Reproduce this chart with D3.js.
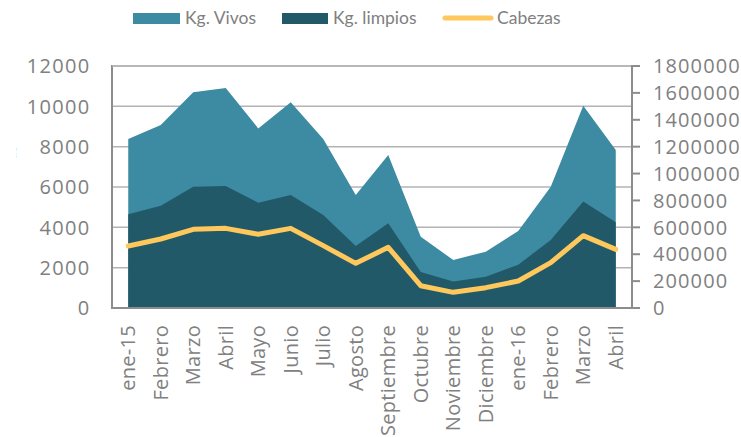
<!DOCTYPE html>
<html>
<head>
<meta charset="utf-8">
<script src="https://cdn.jsdelivr.net/npm/d3@7"></script>
<style>
  body { margin: 0; background: #fff; }
  svg { display: block; }
</style>
</head>
<body>
<svg id="chart" width="741" height="437"></svg>
<script>
// data
const months = ["ene-15", "Febrero", "Marzo", "Abril", "Mayo", "Junio", "Julio", "Agosto",
  "Septiembre", "Octubre", "Noviembre", "Diciembre", "ene-16", "Febrero", "Marzo", "Abril"];
const kgVivos = [1257000, 1361000, 1604000, 1636000, 1336000, 1530000, 1257000, 840000,
  1138000, 530000, 357000, 419000, 573000, 902000, 1505000, 1175000];
const kgLimpios = [697000, 761000, 902000, 907000, 783000, 840000, 692000, 461000,
  630000, 268000, 198000, 233000, 322000, 506000, 793000, 637000];
const cabezas = [3074, 3421, 3901, 3950, 3653, 3950, 3091, 2215,
  3008, 1107, 777, 1008, 1339, 2248, 3587, 2909];

const leftTicks = d3.range(0, 12001, 2000);
const rightTicks = d3.range(0, 1800001, 200000);

const COL_VIVOS = "#3d8ba3";
const COL_LIMPIOS = "#225969";
const COL_CAB = "#ffc85c";
const TXT = "#808080";

const PLOT = { left: 112, right: 632, top: 66, bottom: 308 };

const svg = d3.select("#chart");

const x = d3.scalePoint()
  .domain(d3.range(months.length))
  .range([PLOT.left, PLOT.right])
  .padding(0.5);

const yL = d3.scaleLinear().domain([0, 12000]).range([PLOT.bottom, PLOT.top]);
const yR = d3.scaleLinear().domain([0, 1800000]).range([PLOT.bottom, PLOT.top]);

// gridlines
svg.append("g")
  .selectAll("line")
  .data(leftTicks.filter(d => d > 0))
  .join("line")
  .attr("x1", PLOT.left).attr("x2", PLOT.right)
  .attr("y1", d => yL(d)).attr("y2", d => yL(d))
  .attr("stroke", "#b3b3b3")
  .attr("stroke-width", 1.5);

// areas (right axis)
const areaOf = vals => d3.area()
  .x((d, i) => x(i))
  .y0(yR(0))
  .y1(d => yR(d))(vals);

svg.append("path").attr("d", areaOf(kgVivos)).attr("fill", COL_VIVOS);
svg.append("path").attr("d", areaOf(kgLimpios)).attr("fill", COL_LIMPIOS);

// cabezas line (left axis)
svg.append("path")
  .attr("d", d3.line().x((d, i) => x(i)).y(d => yL(d))(cabezas))
  .attr("fill", "none")
  .attr("stroke", COL_CAB)
  .attr("stroke-width", 5)
  .attr("stroke-linejoin", "round")
  .attr("stroke-linecap", "round");

// axis lines
const axisG = svg.append("g").attr("stroke", "#8c8c8c").attr("stroke-width", 2);
axisG.append("line").attr("x1", PLOT.left).attr("x2", PLOT.left).attr("y1", PLOT.top - 1).attr("y2", PLOT.bottom + 1);
axisG.append("line").attr("x1", PLOT.left).attr("x2", PLOT.right).attr("y1", PLOT.bottom).attr("y2", PLOT.bottom);
axisG.append("line").attr("x1", PLOT.left).attr("x2", PLOT.right).attr("y1", PLOT.top).attr("y2", PLOT.top)
  .attr("stroke", "#b3b3b3").attr("stroke-width", 1.5);
axisG.append("line").attr("x1", PLOT.right).attr("x2", PLOT.right).attr("y1", PLOT.top - 1).attr("y2", PLOT.bottom + 1);
axisG.selectAll("line.tk")
  .data(rightTicks)
  .join("line")
  .attr("class", "tk")
  .attr("x1", PLOT.right).attr("x2", PLOT.right + 8)
  .attr("y1", d => yR(d)).attr("y2", d => yR(d));

// tick labels
const tickFont = "'Open Sans', sans-serif";
svg.append("g")
  .selectAll("text")
  .data(leftTicks)
  .join("text")
  .attr("x", 90.5)
  .attr("y", d => yL(d))
  .attr("dy", "0.36em")
  .attr("text-anchor", "end")
  .attr("font-family", tickFont)
  .attr("font-size", 20)
  .attr("letter-spacing", 1.3)
  .attr("fill", TXT)
  .text(d => d);

svg.append("g")
  .selectAll("text")
  .data(rightTicks)
  .join("text")
  .attr("x", 653)
  .attr("y", d => yR(d))
  .attr("dy", "0.36em")
  .attr("text-anchor", "start")
  .attr("font-family", tickFont)
  .attr("font-size", 20)
  .attr("letter-spacing", 1.1)
  .attr("fill", TXT)
  .text(d => d);

svg.append("g")
  .selectAll("text")
  .data(months)
  .join("text")
  .attr("transform", (d, i) => `translate(${x(i)},${PLOT.bottom + 17}) rotate(-90)`)
  .attr("dy", "0.36em")
  .attr("text-anchor", "end")
  .attr("font-family", tickFont)
  .attr("font-size", 20)
  .attr("letter-spacing", 0.3)
  .attr("fill", TXT)
  .text(d => d);

// clipped left axis title
svg.append("clipPath").attr("id", "titleClip")
  .append("rect").attr("x", 11).attr("y", 0).attr("width", 40).attr("height", 437);
svg.append("text")
  .attr("clip-path", "url(#titleClip)")
  .attr("transform", "translate(16,171) rotate(-90)")
  .attr("text-anchor", "middle")
  .attr("font-family", tickFont)
  .attr("font-size", 13)
  .attr("fill", TXT)
  .text("Cabezas");

// legend
const legFont = "Lato, sans-serif";
const legend = svg.append("g");
const legItems = [
  { label: "Kg. Vivos", type: "rect", color: COL_VIVOS, x: 133, w: 47 },
  { label: "Kg. limpios", type: "rect", color: COL_LIMPIOS, x: 282, w: 46 },
  { label: "Cabezas", type: "line", color: COL_CAB, x: 445, w: 46 }
];
legItems.forEach(it => {
  if (it.type === "rect") {
    legend.append("rect").attr("x", it.x).attr("y", 13).attr("width", it.w).attr("height", 11).attr("fill", it.color);
  } else {
    legend.append("line").attr("x1", it.x).attr("x2", it.x + it.w).attr("y1", 18).attr("y2", 18)
      .attr("stroke", it.color).attr("stroke-width", 5).attr("stroke-linecap", "round");
  }
  legend.append("text")
    .attr("x", it.x + it.w + (it.type === "rect" ? 5 : 6))
    .attr("y", 24)
    .attr("font-family", legFont)
    .attr("font-size", 17.5)
    .attr("fill", TXT)
    .text(it.label);
});
</script>
</body>
</html>
